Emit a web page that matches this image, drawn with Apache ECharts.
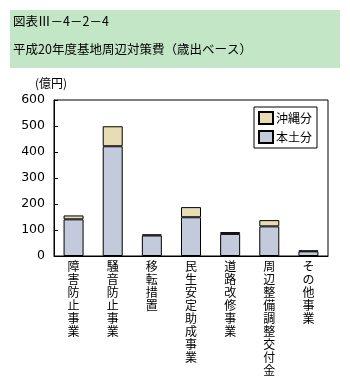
<!DOCTYPE html>
<html><head><meta charset="utf-8">
<script src="https://cdn.jsdelivr.net/npm/echarts@6/dist/echarts.min.js"></script>
<style>html,body{margin:0;padding:0;background:#fff}#c{width:350px;height:378px}</style>
</head><body><div id="c"></div>
<script>
const categories = ['障害防止事業','騒音防止事業','移転措置','民生安定助成事業','道路改修事業','周辺整備調整交付金','その他事業'];
const mainland = [141, 422, 79, 149, 85, 114, 18];
const okinawa = [15, 77, 4, 39, 7, 24, 3];
const yTicks = [0, 100, 200, 300, 400, 500, 600];
const titleLine1 = '図表Ⅲ－4－2－4';
const titleLine2 = '平成20年度基地周辺対策費（歳出ベース）';
const unitLabel = '(億円)';

const JP = '"Noto Sans CJK JP", sans-serif';
const chart = echarts.init(document.getElementById('c'), null, {renderer: 'canvas'});
chart.setOption({
  animation: false,
  graphic: [
    {type: 'rect', left: 10, top: 10, shape: {width: 330, height: 58}, style: {fill: '#c2e6c6'}, z: -1},
    {type: 'text', left: 13, top: 15, style: {text: titleLine1, font: '12.5px ' + JP, fill: '#000'}},
    {type: 'text', left: 13, top: 43, style: {text: titleLine2, font: '12.5px ' + JP, fill: '#000'}},
    {type: 'text', left: 35, top: 77, style: {text: unitLabel, font: '12px ' + JP, fill: '#000'}}
  ],
  grid: {left: 54, top: 100, right: 22, bottom: 122, show: true, borderColor: '#000', borderWidth: 1},
  legend: {
    data: ['沖縄分', '本土分'], orient: 'vertical', left: 254, top: 107, icon: 'rect',
    itemWidth: 14, itemHeight: 12, itemGap: 5,
    padding: [4, 5, 4, 4], borderColor: '#000', borderWidth: 1, backgroundColor: '#fff',
    textStyle: {fontFamily: JP, fontSize: 12, color: '#000', padding: [0, 0, 0, -2]}
  },
  xAxis: {
    type: 'category', data: categories,
    axisLine: {lineStyle: {color: '#000'}}, axisTick: {show: false},
    axisLabel: {
      interval: 0, margin: 4, fontFamily: JP, fontSize: 12, lineHeight: 13, color: '#000',
      verticalAlign: 'top',
      formatter: v => v.split('').join('\n')
    }
  },
  yAxis: {
    type: 'value', min: 0, max: 600, interval: 100,
    axisLine: {show: true, lineStyle: {color: '#000'}},
    axisTick: {show: true, inside: true, length: 4, lineStyle: {color: '#000'}},
    splitLine: {show: false},
    axisLabel: {margin: 9, fontFamily: '"DejaVu Sans", sans-serif', fontSize: 12.5, color: '#000',
      formatter: v => yTicks.includes(v) ? String(v) : ''}
  },
  series: [
    {name: '本土分', type: 'bar', stack: 't', data: mainland, barWidth: 20,
     itemStyle: {color: '#c3cadc', borderColor: '#000', borderWidth: 1}},
    {name: '沖縄分', type: 'bar', stack: 't', data: okinawa, barWidth: 20,
     itemStyle: {color: '#e8dcb5', borderColor: '#000', borderWidth: 1}}
  ]
});
</script></body></html>
